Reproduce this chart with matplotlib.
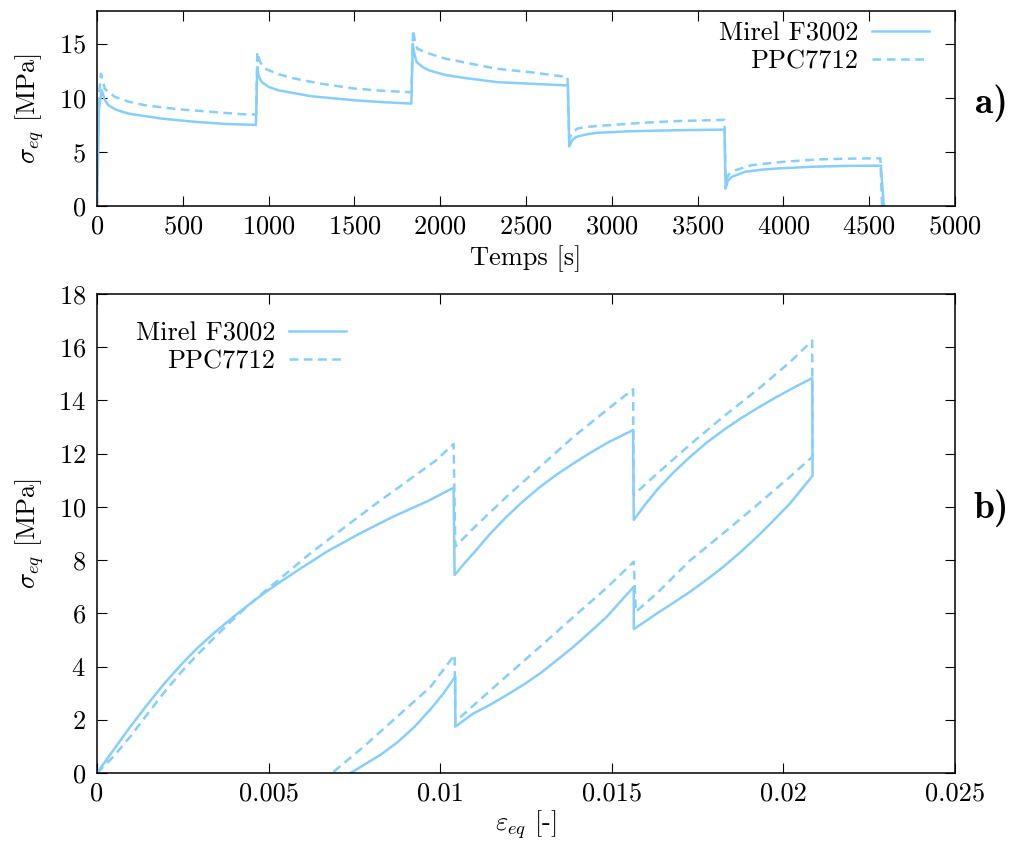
import numpy as np
import matplotlib
matplotlib.use("Agg")
import matplotlib.pyplot as plt
from matplotlib.ticker import FuncFormatter

# a) stress vs time
t_mirel = [0, 12, 27, 45, 66, 110, 182, 376, 570, 764, 926,
           934, 942, 959, 1000, 1056, 1250, 1502, 1650, 1832,
           1840, 1850, 1862, 1900, 1939, 2030, 2133, 2327, 2521, 2744,
           2752, 2770, 2793, 2850, 2909, 3103, 3394, 3657,
           3663, 3675, 3700, 3778, 3870, 3972, 4166, 4360, 4568, 4585]
s_mirel = [0, 9.0, 10.68, 9.8, 9.3, 8.9, 8.53, 8.07, 7.77, 7.56, 7.49,
           12.83, 12.0, 11.45, 11.0, 10.68, 10.13, 9.76, 9.6, 9.45,
           14.97, 14.0, 13.3, 12.8, 12.5, 12.1, 11.84, 11.44, 11.29, 11.13,
           5.5, 6.1, 6.38, 6.6, 6.75, 6.9, 7.0, 7.05,
           1.6, 2.3, 2.7, 3.16, 3.35, 3.47, 3.62, 3.7, 3.72, 0]

t_ppc = [0, 10, 23, 46, 104, 180, 279, 473, 667, 842, 928,
         934, 950, 979, 1060, 1153, 1300, 1502, 1650, 1832,
         1842, 1855, 1868, 1939, 2030, 2133, 2327, 2521, 2742,
         2752, 2770, 2800, 2850, 2970, 3200, 3394, 3657,
         3663, 3680, 3720, 3815, 4000, 4200, 4400, 4565, 4575]
s_ppc = [0, 10.0, 12.2, 10.8, 10.07, 9.65, 9.3, 8.93, 8.69, 8.47, 8.45,
         14.2, 13.3, 12.68, 12.15, 11.76, 11.3, 10.84, 10.65, 10.5,
         16.26, 15.0, 14.5, 14.05, 13.6, 13.28, 12.67, 12.36, 11.9,
         6.2, 6.8, 7.15, 7.3, 7.45, 7.7, 7.85, 7.95,
         2.24, 2.9, 3.3, 3.77, 4.08, 4.3, 4.38, 4.4, 0]

# b) stress vs strain
e_mirel = [0, 0.00049, 0.00097, 0.00146, 0.00194, 0.00243, 0.00292, 0.0034,
           0.00389, 0.00437, 0.00486, 0.00535, 0.00583, 0.0067, 0.00767,
           0.00864, 0.00961, 0.01039,
           0.01042, 0.0107, 0.01097, 0.01145, 0.01194, 0.01243, 0.01292,
           0.0134, 0.01389, 0.01437, 0.01486, 0.01562,
           0.01564, 0.01598, 0.01632, 0.0168, 0.01729, 0.01777, 0.01826,
           0.01875, 0.01924, 0.0198, 0.0203, 0.02084,
           0.02085, 0.0202, 0.01972, 0.01924, 0.01875, 0.01826, 0.01777,
           0.01729, 0.0168, 0.01632, 0.01598, 0.01564,
           0.01564, 0.01486, 0.01437, 0.01389, 0.0134, 0.01292, 0.01243,
           0.01194, 0.01145, 0.01097, 0.01044,
           0.01044, 0.0101, 0.00972, 0.00924, 0.00875, 0.00826, 0.00777, 0.00739]
s_b_mirel = [0, 0.88, 1.74, 2.56, 3.33, 4.04, 4.69, 5.25,
             5.78, 6.27, 6.75, 7.19, 7.6, 8.32, 9.01,
             9.64, 10.2, 10.72,
             7.44, 7.87, 8.26, 8.98, 9.64, 10.23, 10.76,
             11.22, 11.64, 12.03, 12.4, 12.89,
             9.51, 10.1, 10.64, 11.3, 11.89, 12.42, 12.89,
             13.32, 13.71, 14.13, 14.48, 14.84,
             11.17, 10.14, 9.5, 8.88, 8.3, 7.76, 7.27,
             6.82, 6.4, 6.0, 5.7, 5.41,
             7.0, 5.88, 5.3, 4.75, 4.24, 3.75, 3.32,
             2.93, 2.56, 2.24, 1.74,
             3.62, 3.0, 2.4, 1.72, 1.15, 0.68, 0.3, 0]

e_ppc = [0, 0.00049, 0.00097, 0.00146, 0.00194, 0.00243, 0.00292, 0.0034,
         0.00389, 0.00437, 0.00486, 0.00535, 0.00621, 0.00718, 0.00816,
         0.00913, 0.0099, 0.01039,
         0.01044, 0.01097, 0.01194, 0.01292, 0.01389, 0.01486, 0.01562,
         0.01564, 0.01632, 0.01729, 0.01826, 0.01924, 0.0202, 0.02084,
         0.02085, 0.0202, 0.01924, 0.01826, 0.01729, 0.01632, 0.0157,
         0.01564, 0.01486, 0.01389, 0.01292, 0.01194, 0.01097, 0.01044,
         0.01042, 0.00972, 0.00875, 0.00777, 0.00685]
s_b_ppc = [0, 0.63, 1.37, 2.2, 3.0, 3.76, 4.44, 5.06,
           5.68, 6.25, 6.8, 7.32, 8.25, 9.2, 10.15,
           11.05, 11.77, 12.37,
           8.51, 9.2, 10.39, 11.52, 12.64, 13.65, 14.42,
           10.45, 11.25, 12.35, 13.4, 14.4, 15.45, 16.25,
           11.89, 11.14, 10.08, 9.02, 8.0, 6.76, 6.06,
           7.94, 6.97, 5.87, 4.76, 3.65, 2.54, 1.93,
           4.44, 3.24, 2.12, 0.99, 0]

labels = ["Mirel F3002", "PPC7712"]
color = "#87cefa"

plt.rcParams.update({
    "font.family": "cmr10",
    "mathtext.fontset": "cm",
    "axes.formatter.use_mathtext": True,
    "axes.unicode_minus": False,
    "font.size": 19,
    "axes.linewidth": 1.1,
    "xtick.direction": "in",
    "ytick.direction": "in",
    "xtick.top": True,
    "ytick.right": True,
    "xtick.major.size": 7.5,
    "ytick.major.size": 7.5,
    "xtick.major.width": 0.8,
    "ytick.major.width": 0.8,
    "xtick.major.pad": 6,
    "ytick.major.pad": 8,
})

fig = plt.figure(figsize=(10.14, 8.43), dpi=100)
ax1 = fig.add_axes([97 / 1014, 1 - 206 / 843, 858 / 1014, 195 / 843])
ax2 = fig.add_axes([97 / 1014, 1 - 773 / 843, 858 / 1014, 479 / 843])

lw = 1.8
dash = (3.5, 2.2)

ax1.plot(t_mirel, s_mirel, color=color, lw=lw, label=labels[0])
ax1.plot(t_ppc, s_ppc, color=color, lw=lw, dashes=dash, label=labels[1])
ax1.set_xlim(0, 5000)
ax1.set_ylim(0, 18)
ax1.set_xticks(np.arange(0, 5001, 500))
ax1.set_yticks([0, 5, 10, 15])
ax1.set_xlabel("Temps [s]", labelpad=5)
ax1.set_ylabel(r"$\sigma_{eq}$ [MPa]")
ax1.yaxis.set_label_coords(-0.06, 0.5)
ax1.legend(loc="upper right", bbox_to_anchor=(929 / 1014, 1 - 22 / 843),
           bbox_transform=fig.transFigure, frameon=False, markerfirst=False,
           handlelength=2.16, handletextpad=0.53, labelspacing=0.15,
           borderpad=0, borderaxespad=0)

ax2.plot(e_mirel, s_b_mirel, color=color, lw=lw, label=labels[0])
ax2.plot(e_ppc, s_b_ppc, color=color, lw=lw, dashes=dash, label=labels[1])
ax2.set_xlim(0, 0.025)
ax2.set_ylim(0, 18)
ax2.set_xticks(np.arange(0, 0.0251, 0.005))
ax2.set_yticks(np.arange(0, 19, 2))
ax2.xaxis.set_major_formatter(FuncFormatter(lambda v, p: "%g" % round(v, 4)))
ax2.set_xlabel(r"$\varepsilon_{eq}$ [-]", labelpad=2)
ax2.set_ylabel(r"$\sigma_{eq}$ [MPa]")
ax2.yaxis.set_label_coords(-0.06, 0.5)
ax2.legend(loc="upper right", bbox_to_anchor=(346 / 1014, 1 - 322 / 843),
           bbox_transform=fig.transFigure, frameon=False, markerfirst=False,
           handlelength=2.16, handletextpad=0.53, labelspacing=0.15,
           borderpad=0, borderaxespad=0)

fig.text(991 / 1014, 1 - 103 / 843, "a)", family="cmb10", fontsize=27,
         ha="center", va="center")
fig.text(991 / 1014, 1 - 508 / 843, "b)", family="cmb10", fontsize=27,
         ha="center", va="center")

fig.savefig("out.png", dpi=100)
